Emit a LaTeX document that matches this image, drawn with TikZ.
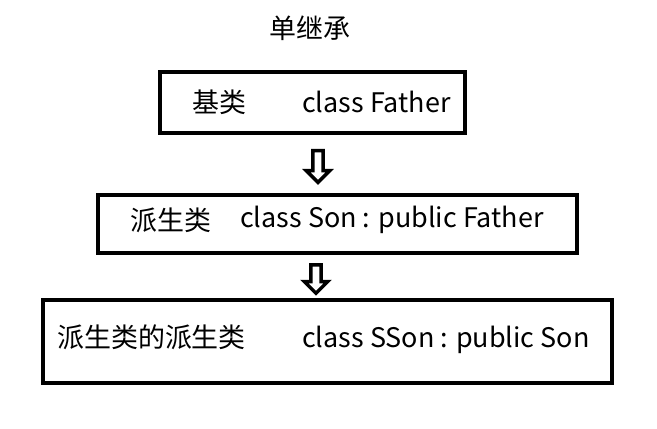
\documentclass[tikz,border=0pt]{standalone}
\usepackage{fontspec}
\setmainfont{Noto Sans CJK SC}
\usetikzlibrary{shapes.arrows,calc}
\tikzset{
  cls/.style={draw, line width=3.4pt, inner sep=0pt},
  txt/.style={font=\fontsize{23}{26}\selectfont, inner sep=0pt, anchor=west},
  down/.style={single arrow, draw, line width=3pt, shape border rotate=270,
    minimum width=0.7cm, single arrow head extend=0.13cm, minimum height=0.95cm, inner sep=0.05cm}
}
\begin{document}
\begin{tikzpicture}[x=0.03cm,y=-0.03cm]
    \useasboundingbox (0,0) rectangle (657,429);
    % title
    \node[txt, anchor=center] (title) at (310,28) {单继承};

    % boxes
    \draw[cls] (160,72) rectangle (465,133);
    \coordinate (b1s) at (318,133);
    \node[txt] (base) at (192,102) {基类};
    \node[txt] (father) at (302,102) {class Father};

    \draw[cls] (98,195) rectangle (577,253);
    \coordinate (b2n) at (318,195);
    \coordinate (b2s) at (316,253);
    \node[txt] (der) at (130,220) {派生类};
    \node[txt] (son) at (240,220) {class Son : public Father};

    \draw[cls] (43,300) rectangle (612,383);
    \coordinate (b3n) at (316,300);
    \node[txt] (dder) at (57,337) {派生类的派生类};
    \node[txt] (sson) at (302,340) {class SSon : public Son};

    % hollow arrows
    \node[down] (a1) at ($(b1s)!0.5!(b2n)$) {};
    \node[down, minimum height=0.85cm] (a2) at ($(b2s)!0.5!(b3n)$) {};
\end{tikzpicture}
\end{document}
